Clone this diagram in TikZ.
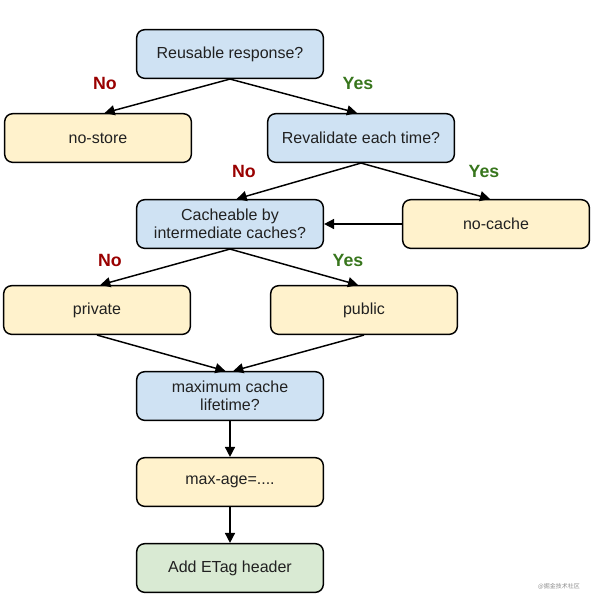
\documentclass[tikz,border=0pt]{standalone}
\usepackage{fontspec}
\setmainfont{Liberation Sans}
\newfontfamily\cjkfont{Noto Sans CJK SC}
\usetikzlibrary{arrows.meta}

\definecolor{qblue}{HTML}{CFE2F3}
\definecolor{ayellow}{HTML}{FFF2CC}
\definecolor{fgreen}{HTML}{D9EAD3}
\definecolor{nored}{HTML}{990000}
\definecolor{yesgreen}{HTML}{38761D}

\tikzset{
  box/.style={draw=black, line width=1.1pt, rounded corners=6pt,
    minimum width=140pt, minimum height=36.5pt, align=center,
    text=black!87, font=\fontsize{12}{13.9}\selectfont},
  question/.style={box, fill=qblue},
  answer/.style={box, fill=ayellow},
  final/.style={box, fill=fgreen},
  flow/.style={line width=1.1pt, -{Triangle[length=7.5pt,width=7.5pt]}},
  nolbl/.style={text=nored, font=\fontsize{13.3}{15}\selectfont\bfseries},
  yeslbl/.style={text=yesgreen, font=\fontsize{13.3}{15}\selectfont\bfseries}
}

\begin{document}
\begin{tikzpicture}[x=0.75pt,y=0.75pt,yscale=-1,xscale=1]
\useasboundingbox (0,0) rectangle (595,600);

% Boxes
\node[question] (reuse) at (230,54) {Reusable response?};
\node[answer] (nostore) at (98,138) {no-store};
\node[question] (revalid) at (361,138) {Revalidate each time?};
\node[question] (cacheable) at (230,224) {Cacheable by\\intermediate caches?};
\node[answer] (nocache) at (496,224) {no-cache};
\node[answer] (private) at (97,310) {private};
\node[answer] (public) at (364,310) {public};
\node[question] (maxlife) at (230,396) {maximum cache\\lifetime?};
\node[answer] (maxage) at (230,482) {max-age=....};
\node[final] (etag) at (230,568) {Add ETag header};

% Connectors
\draw[flow] (reuse.south) -- ([xshift=5pt]nostore.north);
\draw[flow] (reuse.south) -- ([xshift=-3pt]revalid.north);
\draw[flow] (revalid.south) -- ([xshift=5pt]cacheable.north);
\draw[flow] (revalid.south) -- ([xshift=-4.5pt]nocache.north);
\draw[flow] (nocache.west) -- (cacheable.east);
\draw[flow] (cacheable.south) -- ([xshift=2.5pt]private.north);
\draw[flow] (cacheable.south) -- ([xshift=-4.5pt]public.north);
\draw[flow] (private.south) -- ([xshift=-3.5pt]maxlife.north);
\draw[flow] (public.south) -- ([xshift=2.5pt]maxlife.north);
\draw[flow] (maxlife) -- (maxage);
\draw[flow] (maxage) -- (etag);

% Labels
\node[nolbl] (no1) at (105,83) {No};
\node[yeslbl] (yes1) at (358,83) {Yes};
\node[nolbl] (no2) at (244,171) {No};
\node[yeslbl] (yes2) at (484,171) {Yes};
\node[nolbl] (no3) at (110,260) {No};
\node[yeslbl] (yes3) at (348,260) {Yes};

% Watermark
\node[text=black!45, font=\cjkfont\fontsize{4.5}{5}\selectfont] (wm) at (559,586) {@掘金技术社区};
\end{tikzpicture}
\end{document}
